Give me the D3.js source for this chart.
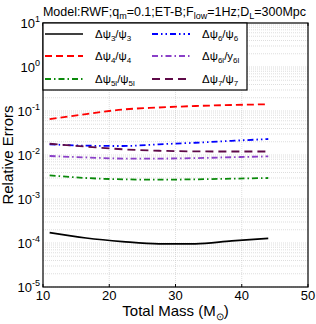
<!DOCTYPE html>
<html>
<head>
<meta charset="utf-8">
<script src="https://cdn.jsdelivr.net/npm/d3@7"></script>
<style>
  body { margin: 0; background: #fff; }
  svg text { font-family: "Liberation Sans", Arial, sans-serif; fill: #000; }
</style>
</head>
<body>
<svg id="chart" width="316" height="324"></svg>
<script>
// total mass values (M_sun)
var masses = [11, 16.5, 22, 27.5, 33, 38.5, 44];

// relative errors
var psi3  = [1.72e-4, 1.3e-4, 1.08e-4, 9.6e-5, 9.6e-5, 1.12e-4, 1.28e-4];
var psi4  = [0.065, 0.085, 0.108, 0.12, 0.13, 0.137, 0.142];
var psi5l = [0.00345, 0.003, 0.0028, 0.00275, 0.0028, 0.0029, 0.003];
var psi6  = [0.0175, 0.0163, 0.016, 0.0175, 0.019, 0.021, 0.0231];
var psi6l = [0.0095, 0.0088, 0.0083, 0.0083, 0.0085, 0.0089, 0.0093];
var psi7  = [0.018, 0.0155, 0.0135, 0.0125, 0.0121, 0.012, 0.012];

var xTicks = [10, 20, 30, 40, 50];
var yTickExps = [1, 0, -1, -2, -3, -4, -5];

var series = [
  {vals: psi3,  color: "#000000", dash: null,              w: 1.7, sub: "3",  den: "ψ", dsub: "3"},
  {vals: psi4,  color: "#ff0000", dash: "7,4",             w: 1.8, sub: "4",  den: "ψ", dsub: "4"},
  {vals: psi5l, color: "#0a8a0a", dash: "6,3,1.5,3",       w: 1.8, sub: "5l", den: "ψ", dsub: "5l"},
  {vals: psi6,  color: "#0000ff", dash: "6,3,1.5,3,1.5,3", w: 1.8, sub: "6",  den: "ψ", dsub: "6"},
  {vals: psi6l, color: "#8a3fc8", dash: "6,3,1.5,3",       w: 1.8, sub: "6l", den: "y", dsub: "6l"},
  {vals: psi7,  color: "#5e0a48", dash: "8,5",             w: 1.8, sub: "7",  den: "ψ", dsub: "7"}
];

var margin = {left: 43, right: 8, top: 23, bottom: 37};
var W = 316, H = 324;
var svg = d3.select("#chart");

var x = d3.scaleLinear().domain([10, 50]).range([margin.left, W - margin.right]);
var y = d3.scaleLog().domain([1e-5, 10]).range([H - margin.bottom, margin.top]);

// grid
var grid = svg.append("g");
xTicks.slice(1, -1).forEach(function(t) {
  grid.append("line").attr("x1", x(t)).attr("x2", x(t))
    .attr("y1", y(1e-5)).attr("y2", y(10))
    .attr("stroke", "#c8c8c8").attr("stroke-width", 0.6).attr("stroke-dasharray", "1,1");
});
for (var e = -5; e < 1; e++) {
  for (var m = 1; m <= 9; m++) {
    var v = m * Math.pow(10, e);
    grid.append("line").attr("x1", x(10)).attr("x2", x(50))
      .attr("y1", y(v)).attr("y2", y(v))
      .attr("stroke", "#c8c8c8").attr("stroke-width", 0.6).attr("stroke-dasharray", "1,1");
  }
}

// lines
var line = d3.line()
  .x(function(d, i) { return x(masses[i]); })
  .y(function(d) { return y(d); })
  .curve(d3.curveMonotoneX);

series.forEach(function(s) {
  svg.append("path").datum(s.vals)
    .attr("d", line)
    .attr("fill", "none")
    .attr("stroke", s.color)
    .attr("stroke-width", s.w)
    .attr("stroke-dasharray", s.dash);
});

// axes box with inward ticks
var box = svg.append("g");
box.append("rect").attr("x", x(10)).attr("y", y(10))
  .attr("width", x(50) - x(10)).attr("height", y(1e-5) - y(10))
  .attr("fill", "none").attr("stroke", "#000").attr("stroke-width", 1.2);

xTicks.forEach(function(t) {
  box.append("line").attr("x1", x(t)).attr("x2", x(t)).attr("y1", y(1e-5)).attr("y2", y(1e-5) - 3).attr("stroke", "#000");
  box.append("line").attr("x1", x(t)).attr("x2", x(t)).attr("y1", y(10)).attr("y2", y(10) + 3).attr("stroke", "#000");
  svg.append("text").attr("x", x(t)).attr("y", y(1e-5) + 12.5)
    .attr("text-anchor", "middle").attr("font-size", 13).text(t);
});

yTickExps.forEach(function(ex) {
  var t = svg.append("text").attr("x", x(10) - 3).attr("y", y(Math.pow(10, ex)) + 5)
    .attr("text-anchor", "end").attr("font-size", 13);
  t.append("tspan").text("10");
  t.append("tspan").attr("dy", -6).attr("font-size", 9).text(ex);
});

// axis titles
svg.append("text").attr("x", (x(10) + x(50)) / 2).attr("y", 316)
  .attr("text-anchor", "middle").attr("font-size", 15)
  .call(function(t) {
    t.append("tspan").text("Total Mass (M");
    t.append("tspan").attr("dy", 4).attr("font-size", 10).text("\u2299");
    t.append("tspan").attr("dy", -4).text(")");
  });

svg.append("text")
  .attr("transform", "translate(13," + ((y(10) + y(1e-5)) / 2) + ") rotate(-90)")
  .attr("text-anchor", "middle").attr("font-size", 15).text("Relative Errors");

// title
svg.append("text").attr("x", (x(10) + x(50)) / 2 - 1).attr("y", 16)
  .attr("text-anchor", "middle").attr("font-size", 12.5)
  .call(function(t) {
    var parts = [["Model:RWF;q", 0], ["m", 1], ["=0.1;ET-B;F", 0], ["low", 1], ["=1Hz;D", 0], ["L", 1], ["=300Mpc", 0]];
    var prev = 0;
    parts.forEach(function(p) {
      var dy = (p[1] - prev) * 3;
      var ts = t.append("tspan").attr("dy", dy).text(p[0]);
      if (p[1]) ts.attr("font-size", 9);
      prev = p[1];
    });
  });

// legend
var lg = svg.append("g");
lg.append("rect").attr("x", x(10)).attr("y", y(10))
  .attr("width", 204).attr("height", 67)
  .attr("fill", "#fff").attr("stroke", "#000").attr("stroke-width", 1.2);

var rowY = [34, 56, 79];
series.forEach(function(s, i) {
  var col = Math.floor(i / 3), row = i % 3;
  var x0 = col === 0 ? 45 : 152;
  var ly = rowY[row];
  lg.append("line").attr("x1", x0).attr("x2", x0 + 38).attr("y1", ly).attr("y2", ly)
    .attr("stroke", s.color).attr("stroke-width", s.w).attr("stroke-dasharray", s.dash);
  var t = lg.append("text").attr("x", x0 + 50).attr("y", ly + 4).attr("font-size", 11.5);
  t.append("tspan").text("\u0394\u03c8");
  t.append("tspan").attr("dy", 3).attr("font-size", 8).text(s.sub);
  t.append("tspan").attr("dy", -3).text("/" + (s.den === "y" ? "y" : "\u03c8"));
  t.append("tspan").attr("dy", 3).attr("font-size", 8).text(s.dsub);
});
</script>
</body>
</html>
